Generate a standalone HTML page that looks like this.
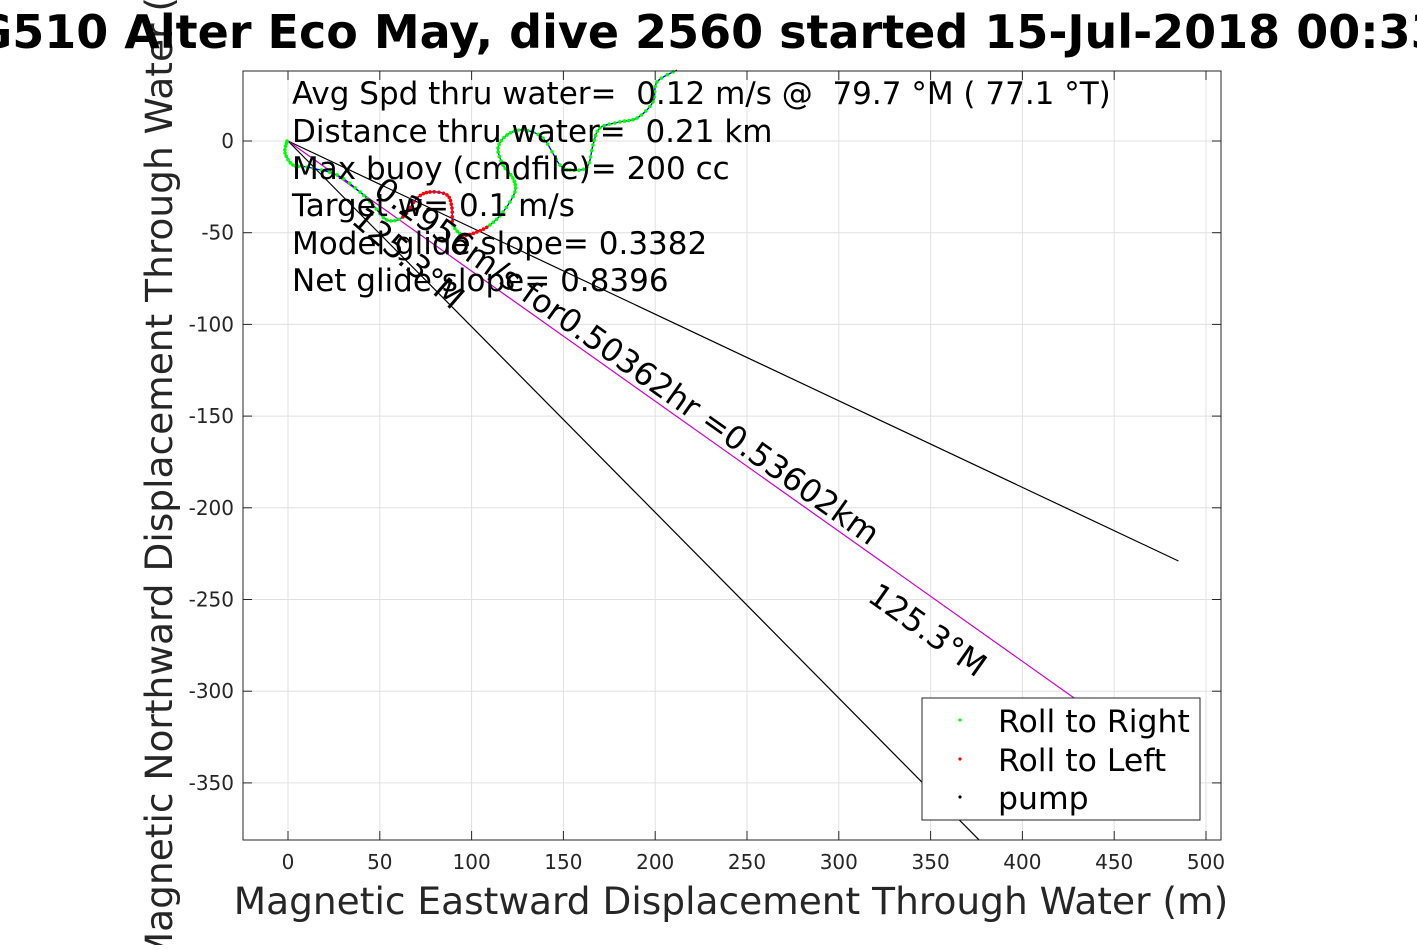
<!DOCTYPE html>
<html><head><meta charset="utf-8"><style>
body{margin:0;background:#fff}
svg text{font-family:"DejaVu Sans","Liberation Sans",sans-serif;white-space:pre}
</style></head><body>
<svg id="chart" width="1417" height="945" viewBox="0 0 1417 945">
<rect x="243" y="71" width="978" height="769" fill="#fff"/>
<g id="grid"></g>
<g id="ticks"></g>
<g id="lines"></g>
<g id="track"></g>
<rect x="243" y="71" width="978" height="769" fill="none" stroke="#262626" stroke-width="1"/>
<g font-size="31" fill="#000" xml:space="preserve">
<text x="292" y="104">Avg Spd thru water=  0.12 m/s @  79.7 °M ( 77.1 °T)</text>
<text x="292" y="142">Distance thru water=  0.21 km</text>
<text x="292" y="179">Max buoy (cmdfile)= 200 cc</text>
<text x="292" y="216">Target w= 0.1 m/s</text>
<text x="292" y="254">Model glide slope= 0.3382</text>
<text x="292" y="291">Net glide slope= 0.8396</text>
</g>
<text transform="translate(372,194) rotate(35.3)" font-size="32">0.2956m/s for0.50362hr =0.53602km</text>
<text transform="translate(866,600) rotate(35.3)" font-size="32">125.3°M</text>
<text transform="translate(350,222) rotate(41)" font-size="32">125.3°M</text>
<g>
<rect x="922" y="698" width="278" height="122" fill="#fff" stroke="#262626"/>
<circle cx="960" cy="720" r="1.6" fill="#0f0"/><text x="998" y="732" font-size="31.5">Roll to Right</text>
<circle cx="960" cy="759" r="1.6" fill="#f00"/><text x="998" y="771" font-size="31.5">Roll to Left</text>
<circle cx="960" cy="797" r="1.6" fill="#000"/><text x="998" y="809" font-size="31.5">pump</text>
</g>
<text x="731" y="914" font-size="37.5" fill="#262626" text-anchor="middle">Magnetic Eastward Displacement Through Water (m)</text>
<text transform="translate(172,455) rotate(-90)" font-size="37.5" fill="#262626" text-anchor="middle">Magnetic Northward Displacement Through Water (m)</text>
<text x="692" y="48" font-size="46" font-weight="bold" text-anchor="middle">SG510 Alter Eco May, dive 2560 started 15-Jul-2018 00:33</text>
</svg>
<script>
const xTicks=[0,50,100,150,200,250,300,350,400,450,500];
const yTicks=[0,-50,-100,-150,-200,-250,-300,-350];
const trackX=[-0.5,-1.6,2.7,10.3,26.7,39.2,46.3,53.9,62.6,70.3,77.3,86.6,89.3,89.9,95.3,102.9,110.0,117.1,123.6,122.5,117.1,114.4,119.3,128.0,138.9,148.1,153.6,162.9,166.1,169.9,180.8,190.1,198.8,201.0,211.9];
const trackY=[0,-6.5,-13.1,-14.2,-18.5,-27.8,-34.9,-43.1,-41.4,-31.1,-27.8,-29.4,-36.5,-45.8,-51.3,-49.6,-45.8,-38.7,-27.8,-20.2,-13.1,-3.8,3.3,6.0,1.6,-13.1,-15.8,-14.2,-2.2,7.1,10.4,12.5,21.3,32.2,38.7];
const rollSide=['R','R','R','R','R','R','R','R','L','L','L','L','L','R','L','L','R','R','R','R','R','R','R','R','R','R','R','R','R','R','R','R','R','R','R'];
const lineEndX=[485,430,400];
const lineEndY=[-229,-305,-405];
const lineColors=['#000','#c0c','#000'];
const NS='http://www.w3.org/2000/svg';
const L=243,R=1221,T=71,B=840;
const sx=v=>288+v*1.836, sy=v=>141-v*1.834;
function mk(tag,at,parent){const e=document.createElementNS(NS,tag);for(const k in at)e.setAttribute(k,at[k]);parent.appendChild(e);return e;}
const grid=document.getElementById('grid'),ticks=document.getElementById('ticks');
xTicks.forEach(v=>{const x=sx(v);
 const g=mk('line',{x1:x,x2:x,y1:T,y2:B,stroke:'#e0e0e0'},grid);
 
 
 mk('line',{x1:x,x2:x,y1:B,y2:B-9,stroke:'#262626'},ticks);
 mk('line',{x1:x,x2:x,y1:T,y2:T+9,stroke:'#262626'},ticks);
 const t=mk('text',{x:x,y:B+29,'font-size':20,fill:'#262626','text-anchor':'middle'},ticks);
 t.textContent=v;
 
 
});
yTicks.forEach(v=>{const y=sy(v);
 const g=mk('line',{x1:L,x2:R,y1:y,y2:y,stroke:'#e0e0e0'},grid);
 
 
 mk('line',{x1:L,x2:L+9,y1:y,y2:y,stroke:'#262626'},ticks);
 mk('line',{x1:R,x2:R-9,y1:y,y2:y,stroke:'#262626'},ticks);
 const t=mk('text',{x:L-9,y:y+7,'font-size':20,fill:'#262626','text-anchor':'end'},ticks);
 t.textContent=v;
 
 
});
const defs=mk('defs',{},document.getElementById('chart'));
const cp=mk('clipPath',{id:'clip'},defs);mk('rect',{x:L,y:T,width:R-L,height:B-T},cp);
const lines=document.getElementById('lines');lines.setAttribute('clip-path','url(#clip)');
lineEndX.forEach((ex,i)=>{
 const l=mk('line',{x1:sx(0),y1:sy(0),x2:sx(ex),y2:sy(lineEndY[i]),stroke:lineColors[i],'stroke-width':1.2},lines);
 
 
});
const track=document.getElementById('track');
const P=trackX.map((x,i)=>[sx(x),sy(trackY[i])]);
let d='M'+P[0][0]+','+P[0][1];
const dense=[];
for(let i=0;i<P.length-1;i++){
 const p0=P[Math.max(0,i-1)],p1=P[i],p2=P[i+1],p3=P[Math.min(P.length-1,i+2)];
 const c1=[p1[0]+(p2[0]-p0[0])/6,p1[1]+(p2[1]-p0[1])/6],c2=[p2[0]-(p3[0]-p1[0])/6,p2[1]-(p3[1]-p1[1])/6];
 d+=' C'+c1+' '+c2+' '+p2;
 for(let k=0;k<4;k++){const t=k/4,u=1-t;
  dense.push([u*u*u*p1[0]+3*u*u*t*c1[0]+3*u*t*t*c2[0]+t*t*t*p2[0],u*u*u*p1[1]+3*u*u*t*c1[1]+3*u*t*t*c2[1]+t*t*t*p2[1],rollSide[i]]);}
}
const p=mk('path',{d:d,fill:'none',stroke:'#00f','stroke-width':1.3},track);


dense.forEach(q=>{
 const c=mk('circle',{cx:q[0],cy:q[1],r:1.8,fill:q[2]==='L'?'#f00':'#0f0'},track);
 
 
});
</script>
</body></html>
